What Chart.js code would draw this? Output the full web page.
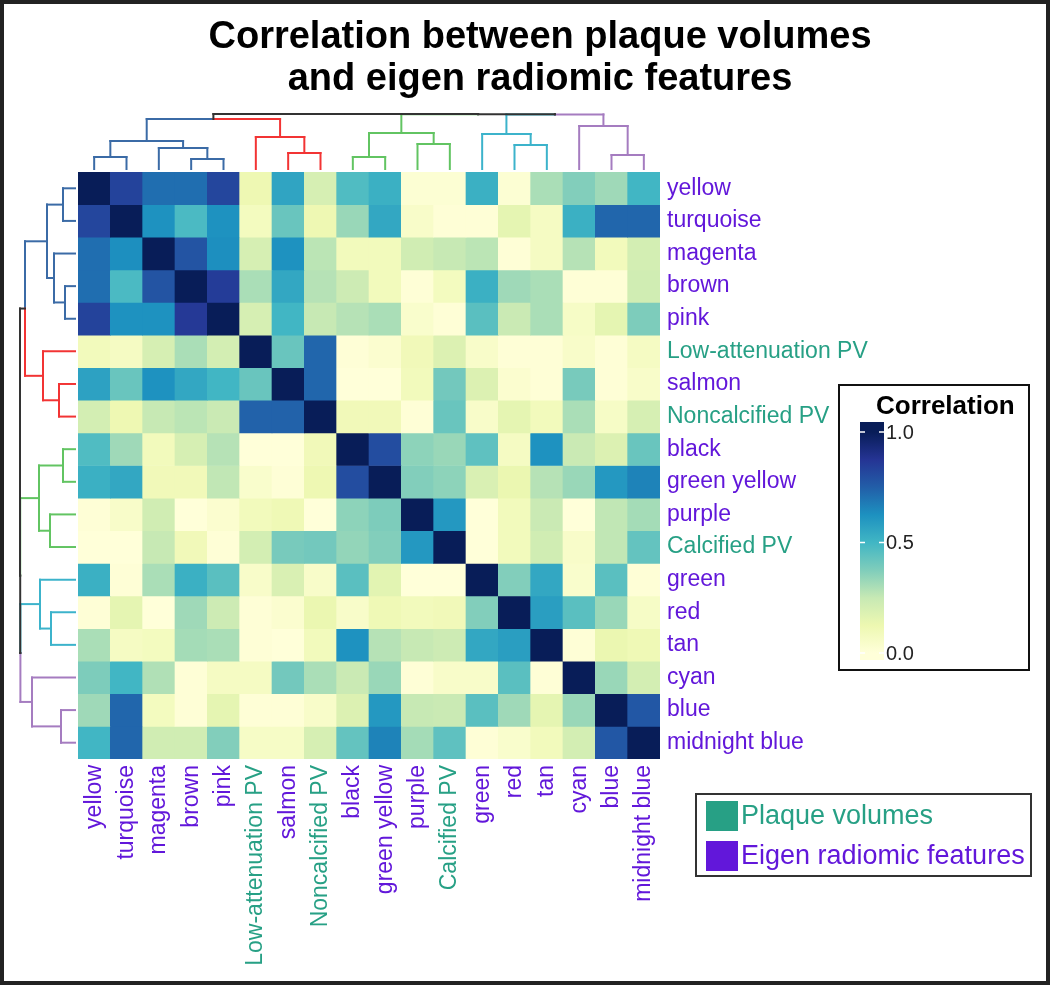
<!DOCTYPE html>
<html>
<head>
<meta charset="utf-8">
<title>Correlation between plaque volumes and eigen radiomic features</title>
<script src="https://cdn.jsdelivr.net/npm/chart.js@4.4.1/dist/chart.umd.min.js"></script>
<style>
  html, body { margin: 0; padding: 0; background: #fff; }
  #wrap { width: 1050px; height: 985px; }
</style>
</head>
<body>
<div id="wrap"><canvas id="heatmap" width="1050" height="985"></canvas></div>
<script>
const FONT = '"Liberation Sans", Arial, Helvetica, sans-serif';
const PV_COLOR = '#27a085';
const EIGEN_COLOR = '#6217da';

// row / column order (clustered)
const features = ['yellow', 'turquoise', 'magenta', 'brown', 'pink', 'Low-attenuation PV', 'salmon',
    'Noncalcified PV', 'black', 'green yellow', 'purple', 'Calcified PV', 'green', 'red', 'tan',
    'cyan', 'blue', 'midnight blue'];
const plaqueVolumes = ['Low-attenuation PV', 'Noncalcified PV', 'Calcified PV'];

// correlation, one row per feature (columns in the same order)
const rowYellow       = [1.00, 0.83, 0.71, 0.71, 0.82, 0.12, 0.56, 0.20, 0.47, 0.52, 0.02, 0.02, 0.52, 0.02, 0.30, 0.37, 0.32, 0.50];
const rowTurquoise    = [0.82, 1.00, 0.62, 0.48, 0.62, 0.08, 0.42, 0.12, 0.33, 0.55, 0.05, 0.01, 0.01, 0.15, 0.07, 0.52, 0.73, 0.73];
const rowMagenta      = [0.71, 0.63, 1.00, 0.78, 0.63, 0.20, 0.62, 0.27, 0.09, 0.09, 0.22, 0.25, 0.27, 0.01, 0.07, 0.28, 0.09, 0.21];
const rowBrown        = [0.71, 0.48, 0.78, 1.00, 0.85, 0.30, 0.55, 0.28, 0.23, 0.09, 0.01, 0.08, 0.52, 0.32, 0.30, 0.01, 0.01, 0.22];
const rowPink         = [0.83, 0.62, 0.62, 0.86, 1.00, 0.20, 0.50, 0.25, 0.28, 0.30, 0.04, 0.01, 0.45, 0.24, 0.30, 0.06, 0.15, 0.38];
const rowLowAttPV     = [0.09, 0.07, 0.20, 0.30, 0.21, 1.00, 0.42, 0.73, 0.01, 0.03, 0.10, 0.18, 0.05, 0.01, 0.01, 0.05, 0.01, 0.07];
const rowSalmon       = [0.57, 0.42, 0.62, 0.55, 0.50, 0.42, 1.00, 0.73, 0.00, 0.00, 0.09, 0.40, 0.18, 0.03, 0.01, 0.39, 0.01, 0.05];
const rowNoncalcPV    = [0.21, 0.12, 0.25, 0.27, 0.24, 0.74, 0.74, 1.00, 0.10, 0.10, 0.01, 0.42, 0.05, 0.15, 0.09, 0.30, 0.06, 0.20];
const rowBlack        = [0.47, 0.32, 0.09, 0.20, 0.28, 0.00, 0.00, 0.10, 1.00, 0.80, 0.35, 0.33, 0.44, 0.07, 0.62, 0.24, 0.18, 0.42];
const rowGreenYellow  = [0.52, 0.55, 0.10, 0.10, 0.26, 0.04, 0.01, 0.12, 0.80, 1.00, 0.37, 0.35, 0.19, 0.13, 0.28, 0.33, 0.60, 0.66];
const rowPurple       = [0.01, 0.05, 0.22, 0.00, 0.03, 0.09, 0.11, 0.00, 0.35, 0.38, 1.00, 0.60, 0.00, 0.09, 0.24, 0.00, 0.26, 0.31];
const rowCalcPV       = [0.00, 0.00, 0.25, 0.10, 0.01, 0.21, 0.39, 0.40, 0.34, 0.37, 0.60, 1.00, 0.00, 0.09, 0.22, 0.05, 0.26, 0.43];
const rowGreen        = [0.52, 0.01, 0.30, 0.52, 0.45, 0.05, 0.19, 0.05, 0.45, 0.16, 0.00, 0.00, 1.00, 0.37, 0.55, 0.04, 0.45, 0.01];
const rowRed          = [0.01, 0.15, 0.00, 0.32, 0.23, 0.01, 0.03, 0.13, 0.05, 0.11, 0.09, 0.10, 0.37, 1.00, 0.58, 0.45, 0.33, 0.06];
const rowTan          = [0.30, 0.07, 0.08, 0.31, 0.30, 0.01, 0.00, 0.09, 0.62, 0.28, 0.25, 0.23, 0.55, 0.58, 1.00, 0.01, 0.13, 0.11];
const rowCyan         = [0.38, 0.50, 0.29, 0.01, 0.07, 0.07, 0.40, 0.30, 0.24, 0.33, 0.01, 0.05, 0.05, 0.45, 0.01, 1.00, 0.33, 0.21];
const rowBlue         = [0.32, 0.73, 0.08, 0.01, 0.15, 0.01, 0.01, 0.05, 0.18, 0.60, 0.25, 0.24, 0.45, 0.32, 0.15, 0.33, 1.00, 0.77];
const rowMidnightBlue = [0.50, 0.73, 0.22, 0.22, 0.37, 0.06, 0.06, 0.20, 0.43, 0.66, 0.31, 0.44, 0.01, 0.04, 0.09, 0.21, 0.77, 1.00];

const corrRows = [rowYellow, rowTurquoise, rowMagenta, rowBrown, rowPink, rowLowAttPV, rowSalmon,
    rowNoncalcPV, rowBlack, rowGreenYellow, rowPurple, rowCalcPV, rowGreen, rowRed, rowTan,
    rowCyan, rowBlue, rowMidnightBlue];

// hierarchical clustering: [left, right, height]; leaves are 0..17, merged nodes get ids 18, 19, ...
const merges = [
    [0, 1, 12], [3, 4, 10], [2, 19, 21], [18, 20, 28],      // 18..21 blue
    [6, 7, 16], [5, 22, 32],                                // 22..23 red
    [21, 23, 50],                                           // 24
    [8, 9, 12], [10, 11, 25], [25, 26, 36],                 // 25..27 green
    [13, 14, 24], [12, 28, 35],                             // 28..29 cyan
    [16, 17, 14], [15, 30, 43],                             // 30..31 purple
    [29, 31, 54.6], [27, 32, 54.8], [24, 33, 55]            // 32..34
];
const clusterOf = [0, 0, 0, 0, 0, 1, 1, 1, 2, 2, 2, 2, 3, 3, 3, 4, 4, 4];
const clusterColors = ['#3b6ba6', '#f23434', '#62c462', '#3cb3cb', '#a57cc0'];

const colorbarTicks = [0, 0.5, 1.0];
const ylGnBu = ['#ffffd9', '#edf8b1', '#c7e9b4', '#7fcdbb', '#41b6c4', '#1d91c0', '#225ea8', '#253494', '#081d58'];

function hexToRgb(h) {
    return [parseInt(h.slice(1, 3), 16), parseInt(h.slice(3, 5), 16), parseInt(h.slice(5, 7), 16)];
}

function corrColor(v) {
    const t = Math.max(0, Math.min(1, v)) * (ylGnBu.length - 1);
    const i = Math.min(Math.floor(t), ylGnBu.length - 2);
    const f = t - i;
    const a = hexToRgb(ylGnBu[i]), b = hexToRgb(ylGnBu[i + 1]);
    const c = a.map((x, k) => Math.round(x + (b[k] - x) * f));
    return `rgb(${c[0]},${c[1]},${c[2]})`;
}

function labelColor(name) {
    return plaqueVolumes.includes(name) ? PV_COLOR : EIGEN_COLOR;
}

// one floating-bar dataset per row of the matrix
const datasets = corrRows.map((row, r) => ({
    label: features[r],
    data: row.map(() => [r, r + 1]),
    backgroundColor: row.map(v => corrColor(v)),
    borderWidth: 0,
    categoryPercentage: 1,
    barPercentage: 1,
    grouped: false
}));

// dendrograms along the top and left of the heatmap
const dendrogramPlugin = {
    id: 'dendrogram',
    afterDatasetsDraw(chart) {
        const { ctx, chartArea } = chart;
        const xs = chart.scales.x, ys = chart.scales.y;
        const gap = 3;
        const n = features.length;

        const nodeCluster = [...clusterOf];
        merges.forEach(([a, b]) => {
            nodeCluster.push(nodeCluster[a] === nodeCluster[b] ? nodeCluster[a] : -1);
        });
        const colorOf = id => nodeCluster[id] >= 0 ? clusterColors[nodeCluster[id]] : '#333';

        function draw(leafPos, toPx, horizontal) {
            const pos = [], hgt = [];
            for (let i = 0; i < n; i++) { pos.push(leafPos(i)); hgt.push(0); }
            ctx.save();
            ctx.lineWidth = 2;
            ctx.lineCap = 'square';
            const seg = (p1, h1, p2, h2, color) => {
                ctx.strokeStyle = color;
                ctx.beginPath();
                if (horizontal) {
                    ctx.moveTo(p1, toPx(h1));
                    ctx.lineTo(p2, toPx(h2));
                } else {
                    ctx.moveTo(toPx(h1), p1);
                    ctx.lineTo(toPx(h2), p2);
                }
                ctx.stroke();
            };
            merges.forEach(([a, b, h]) => {
                const mid = (pos[a] + pos[b]) / 2;
                seg(pos[a], hgt[a], pos[a], h, colorOf(a));
                seg(pos[b], hgt[b], pos[b], h, colorOf(b));
                seg(pos[a], h, mid, h, colorOf(a));
                seg(mid, h, pos[b], h, colorOf(b));
                pos.push(mid);
                hgt.push(h);
            });
            ctx.restore();
        }

        draw(i => xs.getPixelForValue(i), h => chartArea.top - gap - h, true);
        draw(i => ys.getPixelForValue(i + 0.5), h => chartArea.left - gap - h, false);
    }
};

// colour bar + group legend + outer frame
const decorPlugin = {
    id: 'decor',
    beforeDraw(chart) {
        const { ctx, width, height } = chart;
        ctx.save();
        ctx.fillStyle = '#fff';
        ctx.fillRect(0, 0, width, height);
        ctx.restore();
    },
    afterDraw(chart) {
        const { ctx, width, height } = chart;
        ctx.save();

        // colour bar legend
        ctx.lineWidth = 2;
        ctx.strokeStyle = '#111';
        ctx.strokeRect(839, 385, 190, 285);
        ctx.fillStyle = '#000';
        ctx.font = `bold 26px ${FONT}`;
        ctx.textBaseline = 'alphabetic';
        ctx.textAlign = 'left';
        ctx.fillText('Correlation', 876, 414);

        const y0 = 653, y1 = 432, barL = 860, barW = 24;
        const grad = ctx.createLinearGradient(0, y0, 0, y1);
        ylGnBu.forEach((c, i) => grad.addColorStop(i / (ylGnBu.length - 1), c));
        ctx.fillStyle = grad;
        ctx.fillRect(barL, 422, barW, 238);

        ctx.font = `20px ${FONT}`;
        ctx.textBaseline = 'middle';
        colorbarTicks.forEach(t => {
            const y = y0 + (y1 - y0) * t;
            ctx.strokeStyle = '#fff';
            ctx.lineWidth = 1.5;
            ctx.beginPath();
            ctx.moveTo(barL, y); ctx.lineTo(barL + 5, y);
            ctx.moveTo(barL + barW - 5, y); ctx.lineTo(barL + barW, y);
            ctx.stroke();
            ctx.fillStyle = '#222';
            ctx.fillText(t.toFixed(1), barL + barW + 2, y + 1);
        });

        // group legend
        ctx.lineWidth = 2;
        ctx.strokeStyle = '#333';
        ctx.strokeRect(696, 794, 335, 82);
        const groups = [['Plaque volumes', PV_COLOR], ['Eigen radiomic features', EIGEN_COLOR]];
        ctx.font = `27px ${FONT}`;
        ctx.textBaseline = 'middle';
        groups.forEach(([name, color], i) => {
            const yc = 816 + i * 40;
            ctx.fillStyle = color;
            ctx.fillRect(706, yc - 15, 32, 30);
            ctx.fillText(name, 741, yc + 1);
        });

        // outer frame
        ctx.lineWidth = 4;
        ctx.strokeStyle = '#222';
        ctx.strokeRect(2, 2, width - 4, height - 4);
        ctx.restore();
    }
};

new Chart(document.getElementById('heatmap'), {
    type: 'bar',
    data: { labels: features, datasets },
    options: {
        responsive: false,
        animation: false,
        events: [],
        layout: { padding: { top: 4, left: 30, right: 0, bottom: 0 } },
        plugins: {
            legend: { display: false },
            tooltip: { enabled: false },
            title: {
                display: true,
                text: ['Correlation between plaque volumes', 'and eigen radiomic features'],
                color: '#000',
                font: { family: FONT, size: 38, weight: 'bold', lineHeight: 1.1 },
                padding: { top: 13, bottom: 71.4 }
            }
        },
        scales: {
            x: {
                type: 'category',
                position: 'bottom',
                grid: { display: false, drawTicks: false },
                border: { display: false },
                ticks: {
                    autoSkip: false,
                    minRotation: 90,
                    maxRotation: 90,
                    padding: 6,
                    font: { family: FONT, size: 23 },
                    color: c => labelColor(features[c.index])
                },
                afterFit: s => { s.height = 226; }
            },
            y: {
                type: 'linear',
                position: 'right',
                min: 0,
                max: features.length,
                reverse: true,
                grid: { display: false, drawTicks: false },
                border: { display: false },
                afterBuildTicks: s => { s.ticks = features.map((f, i) => ({ value: i + 0.5 })); },
                ticks: {
                    autoSkip: false,
                    padding: 7,
                    font: { family: FONT, size: 23 },
                    callback: v => features[Math.floor(v)],
                    color: c => labelColor(features[c.index])
                },
                afterFit: s => { s.width = 390; }
            },
            dendroSpace: {
                type: 'linear',
                position: 'left',
                grid: { display: false, drawTicks: false },
                border: { display: false },
                ticks: { display: false },
                afterFit: s => { s.width = 48; }
            }
        }
    },
    plugins: [dendrogramPlugin, decorPlugin]
});
</script>
</body>
</html>
